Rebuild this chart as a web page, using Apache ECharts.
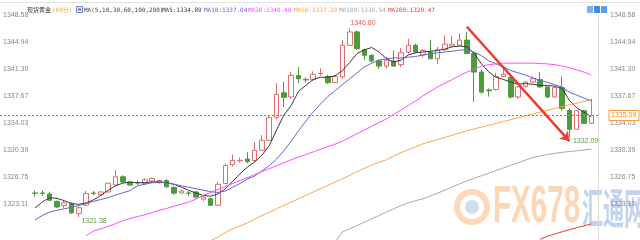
<!DOCTYPE html>
<html>
<head>
<meta charset="utf-8">
<script src="https://cdn.jsdelivr.net/npm/echarts@6/dist/echarts.min.js"></script>
<style>html,body{margin:0;padding:0;background:#fff}#main{width:640px;height:240px}</style>
</head>
<body>
<div id="main"></div>
<script>
// [open, close, low, high]
var ohlc = [
  [1324.62,1324.58,1324.15,1324.96],[1324.62,1324.58,1324.2,1325.0],[1324.5,1323.65,1323.5,1324.8],[1323.5,1322.75,1322.6,1323.6],
  [1322.95,1323.3,1322.6,1323.6],[1323.2,1321.95,1321.85,1323.4],[1321.85,1322.65,1321.38,1322.8],[1323.0,1324.55,1322.9,1324.9],
  [1324.62,1324.58,1324.3,1324.9],[1324.4,1324.76,1324.2,1324.9],[1324.76,1325.95,1324.7,1326.0],[1325.7,1326.8,1325.6,1327.7],
  [1326.8,1326.1,1326.0,1327.0],[1326.1,1325.7,1325.6,1326.2],[1326.02,1325.98,1325.7,1326.3],[1325.9,1326.4,1325.7,1326.6],
  [1326.24,1326.58,1326.1,1326.7],[1326.0,1326.3,1325.9,1326.4],[1326.3,1325.45,1325.3,1326.5],[1325.35,1324.6,1324.4,1325.6],
  [1324.62,1324.9,1324.5,1325.1],[1324.62,1324.58,1324.2,1324.9],[1324.76,1324.08,1323.9,1324.9],[1323.8,1324.08,1323.5,1324.3],
  [1323.85,1322.97,1322.9,1324.0],[1322.97,1325.8,1322.9,1326.1],[1325.9,1328.35,1325.8,1328.6],[1328.45,1329.0,1328.2,1329.8],
  [1328.98,1329.02,1328.7,1329.4],[1329.2,1328.85,1328.6,1330.1],[1329.0,1330.37,1328.8,1331.5],[1330.37,1331.72,1330.3,1332.4],
  [1331.72,1334.77,1331.6,1335.1],[1334.8,1337.9,1334.5,1339.4],[1338.1,1337.5,1336.2,1339.6],[1337.55,1340.45,1337.3,1340.9],
  [1340.45,1340.0,1339.4,1341.6],[1339.9,1339.85,1339.5,1340.2],[1339.87,1340.6,1339.7,1341.0],[1340.68,1340.72,1340.4,1341.4],
  [1340.3,1339.45,1339.3,1340.5],[1339.5,1340.3,1339.4,1340.5],[1340.25,1344.5,1340.0,1345.2],[1344.5,1346.3,1344.4,1346.8],
  [1346.3,1344.05,1343.9,1346.5],[1343.9,1343.15,1342.5,1344.05],[1343.15,1342.4,1342.2,1343.3],[1342.4,1341.7,1341.3,1342.6],
  [1341.7,1342.5,1341.4,1343.0],[1342.4,1341.7,1341.6,1343.8],[1341.9,1343.5,1341.6,1344.1],[1343.6,1344.5,1343.4,1345.4],
  [1344.5,1343.6,1343.4,1344.7],[1343.2,1343.8,1342.9,1344.0],[1343.6,1342.7,1342.6,1345.2],[1342.7,1343.9,1342.0,1344.3],
  [1343.9,1344.65,1343.8,1345.85],[1344.4,1344.65,1344.3,1345.8],[1344.5,1345.2,1344.4,1346.1],[1345.2,1343.4,1343.3,1346.3],
  [1343.4,1340.9,1336.9,1343.6],[1340.9,1338.2,1338.0,1341.2],[1338.5,1338.4,1337.6,1338.7],[1338.55,1340.3,1338.4,1340.8],
  [1340.3,1340.6,1340.2,1341.4],[1340.2,1337.55,1337.3,1340.4],[1337.55,1338.9,1337.3,1339.0],[1338.98,1339.55,1338.8,1339.7],
  [1339.56,1340.0,1339.4,1340.3],[1339.9,1338.9,1338.8,1340.9],[1338.9,1337.55,1337.4,1339.0],[1337.55,1338.8,1337.4,1339.0],
  [1338.8,1336.0,1335.7,1340.3],[1335.75,1333.2,1332.09,1336.0],[1333.2,1335.7,1333.1,1335.8],[1335.7,1334.0,1333.9,1335.8],
  [1334.0,1335.09,1333.9,1337.3]
];
var categories = ohlc.map(function (d, i) { return String(i); });

var ma5 = [1322.6,1323.4,1324.0,1323.9,1323.6,1323.2,1323.1,1323.3,1323.7,1324.3,1325.0,1325.6,1325.95,1326.1,1326.0,1326.05,
  1326.1,1326.15,1326.0,1325.8,1325.4,1325.0,1324.6,1324.3,1324.2,1324.5,1325.2,1326.2,1327.2,1328.1,1328.8,1329.7,
  1331.0,1333.1,1335.1,1336.4,1338.3,1339.1,1339.9,1340.2,1340.2,1340.4,1341.1,1342.2,1343.4,1343.9,1344.2,1343.6,
  1342.7,1342.25,1342.5,1343.2,1343.5,1343.6,1343.7,1343.8,1344.0,1344.3,1344.4,1344.3,1343.4,1342.0,1340.9,1340.2,
  1339.9,1339.55,1339.25,1339.35,1339.25,1339.1,1339.1,1339.0,1338.7,1337.1,1336.1,1335.5,1334.89];
var ma10 = [1321.0,1321.6,1322.05,1322.3,1322.5,1322.7,1322.95,1323.2,1323.5,1323.75,1324.0,1324.35,1324.65,1324.95,1325.6,1325.8,
  1326.0,1326.05,1326.0,1325.8,1325.6,1325.4,1325.2,1325.0,1324.8,1324.7,1324.9,1325.4,1325.9,1326.5,1326.9,1327.6,
  1328.3,1329.2,1330.3,1331.6,1333.0,1334.3,1335.5,1336.6,1337.6,1338.4,1339.2,1340.0,1340.8,1341.6,1342.1,1342.5,
  1342.7,1342.8,1342.8,1342.9,1343.0,1343.2,1343.35,1343.5,1343.6,1343.7,1343.85,1343.9,1343.6,1343.1,1342.4,1342.0,
  1341.6,1341.1,1340.8,1340.5,1340.1,1339.8,1339.5,1339.2,1338.9,1338.2,1337.8,1337.4,1337.04];
var ma30 = [null,null,null,null,null,null,null,1318.9,1319.5,1319.8,1320.15,1320.5,1320.9,1321.2,1321.45,1321.7,
  1322.0,1322.3,1322.55,1322.85,1323.1,1323.4,1323.8,1324.3,1324.7,1325.1,1325.5,1325.9,1326.3,1326.7,1327.1,1327.5,
  1327.9,1328.3,1328.7,1329.1,1329.45,1329.8,1330.15,1330.5,1330.85,1331.2,1331.6,1332.1,1332.6,1333.1,1333.6,1334.1,
  1334.6,1335.2,1335.8,1336.4,1337.0,1337.7,1338.3,1338.9,1339.4,1339.9,1340.4,1340.9,1341.3,1341.7,1341.9,1342.0,
  1342.1,1342.1,1342.1,1342.1,1342.1,1342.05,1342.0,1341.9,1341.7,1341.5,1341.2,1340.9,1340.49];
var ma60 = [null,null,null,null,null,null,null,null,null,null,null,null,null,null,null,null,
  null,null,null,null,null,null,null,null,1318.2,1318.7,1319.3,1319.8,1320.2,1320.6,1321.1,1321.6,
  1322.0,1322.5,1322.95,1323.4,1323.85,1324.3,1324.75,1325.2,1325.65,1326.1,1326.55,1327.0,1327.5,1327.95,1328.4,1328.75,
  1329.1,1329.6,1330.05,1330.45,1330.85,1331.25,1331.55,1331.8,1332.1,1332.4,1332.7,1333.0,1333.25,1333.5,1333.75,1334.0,
  1334.25,1334.5,1334.75,1335.0,1335.25,1335.5,1335.75,1336.0,1336.25,1336.5,1336.7,1336.95,1337.2];
var ma100 = [null,null,null,null,null,null,null,null,null,null,null,null,null,null,null,null,
  null,null,null,null,null,null,null,null,null,null,null,null,null,null,null,null,
  null,null,null,null,null,null,null,null,null,1318.0,1319.4,1319.8,1320.25,1320.7,1321.15,1321.6,
  1322.05,1322.5,1322.95,1323.3,1323.6,1323.85,1324.2,1324.6,1325.0,1325.45,1325.85,1326.25,1326.6,1326.95,1327.3,1327.65,
  1328.0,1328.35,1328.7,1329.05,1329.4,1329.6,1329.8,1329.95,1330.1,1330.2,1330.3,1330.42,1330.54];
var ma200 = [null,null,null,null,null,null,null,null,null,null,null,null,null,null,null,null,
  null,null,null,null,null,null,null,null,null,null,null,null,null,null,null,null,
  null,null,null,null,null,null,null,null,null,null,null,null,null,null,null,null,
  null,null,null,null,null,null,null,null,null,null,null,null,null,null,null,null,
  null,null,null,null,null,1318.4,1318.8,1319.1,1319.4,1319.7,1319.95,1320.2,1320.47];

var yTicks = [1323.11, 1326.75, 1330.39, 1334.03, 1337.67, 1341.30, 1344.94, 1348.58];
var lastPrice = 1335.09;
var highMark = [43, 1346.80];
var lowMark = [6, 1321.38];
var recentLow = [73, 1332.09];
var arrowFrom = [59, 1347.0];
var arrowTo = [73, 1331.6];

var maNames = ['MA5', 'MA10', 'MA30', 'MA60', 'MA100', 'MA200'];
var maColors = ['#3a3a3a', '#6464d8', '#ff4dff', '#ffa24a', '#a8a8a8', '#e83a3a'];
var maLast = ['1334.89', '1337.04', '1340.49', '1337.20', '1330.54', '1320.47'];
var maLabelX = [162, 204, 248, 294, 339, 388];

var chart = echarts.init(document.getElementById('main'));
var mono = '6px "DejaVu Sans Mono", "Noto Sans CJK SC", monospace';

var graphics = [
  {type: 'line', shape: {x1: 0, y1: 2.5, x2: 640, y2: 2.5}, style: {stroke: '#e2e2e2', lineWidth: 1}},
  {type: 'text', x: 27, y: 10, style: {text: '现货黄金', fill: '#333', font: mono, verticalAlign: 'middle'}},
  {type: 'text', x: 52, y: 10, style: {text: '(60分)', fill: '#f0a030', font: mono, verticalAlign: 'middle'}},
  {type: 'rect', shape: {x: 76.5, y: 6.5, width: 6, height: 6}, style: {fill: '#dfe9f8', stroke: '#5b8fd6', lineWidth: 1}},
  {type: 'rect', shape: {x: 78, y: 8.5, width: 3, height: 2}, style: {fill: '#e05050'}},
  {type: 'text', x: 84, y: 10, style: {text: 'MA(5,10,30,60,100,200)', fill: '#444', font: mono, verticalAlign: 'middle'}},
  {type: 'rect', shape: {x: 587, y: 6, width: 6, height: 7}, style: {fill: '#7fb2e6'}},
  {type: 'rect', shape: {x: 594, y: 6, width: 6, height: 7}, style: {fill: '#3d8ee0'}},
  {type: 'rect', shape: {x: 601, y: 6, width: 6, height: 7}, style: {fill: '#5aa0e8'}},
  // watermark
  {type: 'circle', shape: {cx: 472, cy: 207, r: 15}, style: {fill: 'none', stroke: 'rgba(247,170,100,0.45)', lineWidth: 6}},
  {type: 'circle', shape: {cx: 472, cy: 207, r: 7}, style: {fill: 'rgba(120,160,210,0.35)'}},
  {type: 'text', x: 493, y: 208, scaleX: 0.57, style: {text: 'FX678', fill: 'rgba(247,175,110,0.5)', font: 'bold 52px "Liberation Sans"', verticalAlign: 'middle'}},
  {type: 'text', x: 582, y: 208, scaleX: 0.5, style: {text: '汇通网', fill: 'rgba(120,160,215,0.45)', font: 'bold 42px "Noto Sans CJK SC"', verticalAlign: 'middle'}}
];
maNames.forEach(function (n, i) {
  graphics.push({type: 'text', x: maLabelX[i], y: 10,
    style: {text: n + ':' + maLast[i], fill: maColors[i], font: mono, verticalAlign: 'middle'}});
});

var maData = [ma5, ma10, ma30, ma60, ma100, ma200];
var series = [{
  type: 'candlestick',
  data: ohlc,
  barWidth: 5,
  itemStyle: {color: '#ffffff', color0: '#4f9a3c', borderColor: '#e36b6b', borderColor0: '#4f9a3c', borderWidth: 1},
  markPoint: {
    symbol: 'circle', symbolSize: 1, itemStyle: {color: 'rgba(0,0,0,0)'},
    label: {show: true, position: 'right', distance: 0, fontSize: 7, fontFamily: 'Arial'},
    data: [
      {coord: highMark, value: highMark[1].toFixed(2), label: {color: '#e06060', offset: [0, -5]}},
      {coord: lowMark, value: lowMark[1].toFixed(2), label: {color: '#5a9e3a', offset: [2, 4]}},
      {coord: recentLow, value: recentLow[1].toFixed(2), label: {color: '#5a9e3a', offset: [3, 4]}}
    ]
  },
  markLine: {
    silent: true, symbol: ['none', 'arrow'], symbolSize: 9,
    lineStyle: {color: '#f03a2e', width: 2.5, type: 'solid'},
    label: {show: false},
    data: [[{coord: arrowFrom}, {coord: arrowTo}]]
  }
}];
maData.forEach(function (d, i) {
  series.push({type: 'line', data: d, symbol: 'none', smooth: false, connectNulls: false,
    lineStyle: {color: maColors[i], width: 1}, z: 3});
});

var yBase = {
  type: 'value', min: 1318.3, max: 1348.58, scale: true,
  splitLine: {show: false}, axisTick: {show: false},
  axisLabel: {customValues: yTicks, fontSize: 7, fontFamily: 'Arial', color: '#888',
    formatter: function (v) { return v.toFixed(2); }}
};

chart.setOption({
  animation: false,
  backgroundColor: '#fff',
  graphic: graphics,
  grid: {left: 28, right: 45, top: 15, height: 225},
  xAxis: {type: 'category', data: categories, boundaryGap: true,
    axisLine: {show: false}, axisTick: {show: false}, axisLabel: {show: false}, splitLine: {show: false}},
  yAxis: [
    Object.assign({}, yBase, {position: 'left', axisLine: {show: false},
      axisLabel: Object.assign({}, yBase.axisLabel, {margin: 3})}),
    Object.assign({}, yBase, {position: 'right', offset: 3, axisLine: {show: true, lineStyle: {color: '#dcdcdc'}},
      axisLabel: Object.assign({}, yBase.axisLabel, {margin: 12})})
  ],
  series: series
});

// last price line across the full width, placed through the value axis
var py = Math.round(chart.convertToPixel({yAxisIndex: 0}, lastPrice)) + 0.5;
graphics.push(
  {type: 'line', z: 50, shape: {x1: 0, y1: py, x2: 598, y2: py}, style: {stroke: '#3d9cf0', lineWidth: 1, lineDash: [2, 2]}},
  {type: 'rect', z: 50, shape: {x: 609, y: py - 5, width: 30, height: 10}, style: {fill: 'rgba(255,255,255,0.75)', stroke: '#f5a040', lineWidth: 1}},
  {type: 'text', z: 51, x: 611, y: py, style: {text: lastPrice.toFixed(2), fill: '#f08a00', font: '7px Arial', verticalAlign: 'middle'}}
);
chart.setOption({graphic: graphics});
</script>
</body>
</html>
